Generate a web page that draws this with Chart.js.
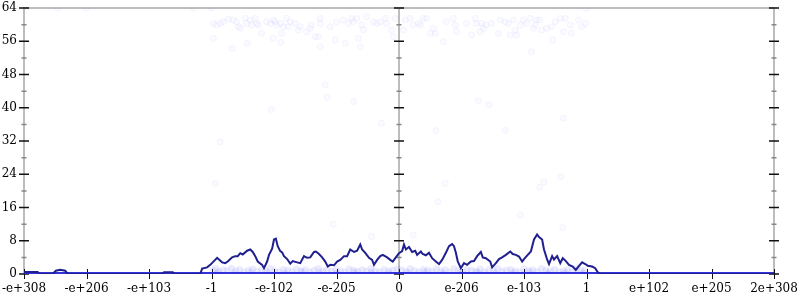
<!DOCTYPE html>
<html>
<head>
<meta charset="utf-8">
<script src="https://cdn.jsdelivr.net/npm/chart.js@4/dist/chart.umd.min.js"></script>
<style>
html,body{margin:0;padding:0;background:#fff;}
#wrap{width:800px;height:300px;}
</style>
</head>
<body>
<div id="wrap"><canvas id="c" width="800" height="300"></canvas></div>
<script>
// ---- tick labels ----
const xTickLabels = ["-e+308","-e+206","-e+103","-1","-e-102","-e-205","0","e-206","e-103","1","e+102","e+205","2e+308"];
const yMin = 0, yMax = 64, yStep = 8;

// ---- main density line (x in label-interval units, -6..6) ----
const lineX = [-6.00,-5.78,-5.76,-5.54,-5.49,-5.42,-5.34,-5.30,-3.79,-3.76,-3.62,-3.58,
 -3.18,-3.15,-3.07,-3.02,-2.91,-2.83,-2.78,-2.74,-2.67,-2.62,-2.58,-2.54,-2.50,-2.43,-2.38,-2.34,-2.30,-2.26,-2.19,-2.16,-2.11,-2.08,-2.03,-2.00,-1.97,-1.94,-1.90,-1.87,-1.84,-1.79,-1.74,-1.70,-1.63,
 -1.58,-1.52,-1.47,-1.42,-1.36,-1.33,-1.28,-1.23,-1.18,-1.14,-1.10,-1.04,-0.99,-0.94,-0.88,-0.83,-0.78,-0.72,-0.67,-0.62,-0.59,-0.54,-0.48,-0.43,-0.40,-0.35,-0.30,-0.26,-0.19,-0.14,-0.10,-0.06,
 0.00,0.05,0.08,0.11,0.16,0.21,0.26,0.29,0.35,0.38,0.43,0.48,0.53,0.59,0.64,0.69,0.75,0.80,0.85,0.88,0.91,0.94,0.99,1.04,1.09,1.15,1.20,1.25,1.31,1.34,1.39,1.46,1.49,1.55,1.60,
 1.65,1.71,1.78,1.82,1.87,1.92,1.97,2.00,2.06,2.11,2.16,2.21,2.24,2.29,2.32,2.37,2.40,2.45,2.48,2.53,2.58,2.62,2.67,2.72,2.78,2.83,2.86,2.93,2.98,3.02,3.09,3.14,3.18,3.22,6.00];
const lineY = [0.5,0.5,0,0,0.8,1.0,0.8,0,0,0.4,0.4,0,
 0,1.3,1.6,2.2,3.9,2.8,2.6,3.0,4.0,4.3,4.3,5.0,4.7,5.6,5.9,5.3,4.3,3.0,2.2,1.4,3.0,4.6,6.1,8.3,8.5,6.7,5.5,5.2,4.3,3.6,2.5,3.1,2.8,
 2.6,4.3,3.9,4.0,5.3,5.4,4.8,4.0,3.0,1.8,2.2,2.1,3.0,3.4,4.3,4.3,5.9,5.3,5.6,7.1,5.9,5.1,3.9,3.4,2.2,3.4,4.3,4.6,4.0,3.4,3.0,3.8,
 5.0,5.5,7.1,5.9,6.5,5.3,5.6,4.6,5.4,4.8,4.5,5.1,3.8,3.0,2.4,3.4,5.1,6.7,7.2,6.7,5.1,3.0,1.4,2.6,2.2,3.0,3.1,4.3,5.3,4.0,3.8,3.0,1.6,2.6,3.6,
 4.0,4.6,5.4,4.8,4.6,4.2,3.0,3.6,4.6,5.4,8.3,9.5,8.9,8.3,5.9,3.5,2.4,4.3,3.5,4.3,2.6,3.8,3.1,2.2,1.8,1.0,1.6,2.8,2.4,2.0,1.8,1.4,0.4,0,0];

// ---- baseline band ----
const bandX = [-6, 6];
const bandY = [0, 0];

// ---- faint scattered samples ----
const ptsX = [-3.00,-2.97,-2.92,-2.86,-2.81,-2.73,-2.65,-2.60,-2.57,-2.54,-2.46,-2.44,-2.38,-2.36,-2.30,-2.28,-2.25,-2.20,-2.12,-2.06,-2.01,-1.98,-1.96,-1.90,-1.88,-1.85,-1.80,-1.77,-1.74,-1.66,-1.61,-1.58,-1.48,-1.42,-1.40,-1.34,-1.29,-1.26,-1.26,-1.10,-1.02,-1.00,-0.89,-0.86,-0.81,-0.76,-0.73,-0.68,-0.65,-0.62,-0.60,-0.57,-0.52,-0.41,-0.36,-0.30,-0.22,-0.20,-0.12,-0.09,-0.06,
 -2.97,-2.67,-2.43,-2.01,-1.89,-1.26,-1.18,-1.15,-0.73,-2.04,-0.28,-2.86,
 0.07,0.10,0.18,0.23,0.31,0.34,0.39,0.44,0.50,0.55,0.58,0.71,0.76,0.87,0.90,0.92,1.08,1.16,1.22,1.24,1.30,1.32,1.35,1.39,1.48,1.59,1.62,1.70,1.75,1.78,1.83,1.86,1.88,1.94,1.99,2.04,2.10,2.15,2.18,2.20,2.25,2.28,2.36,2.44,2.46,2.50,2.58,2.63,2.66,2.74,2.76,2.87,2.92,2.98,3.00,
 2.12,1.27,1.44,2.63,0.59,1.70,0.74,0.62,1.94,2.25,2.32,2.62,0.23,2.59,-2.94,-1.05,-0.44,-5.46,-5.00,-3.30];
const ptsY = [64.0,60.3,59.9,60.3,60.7,61.3,61.1,60.7,59.5,59.1,61.5,60.3,61.1,59.9,61.5,60.3,59.9,57.9,60.7,60.3,61.1,60.7,59.9,60.3,57.9,59.5,61.5,59.5,60.7,60.3,58.7,59.5,58.3,59.1,59.9,57.1,57.1,61.5,60.3,59.5,56.3,60.7,61.1,55.5,60.3,61.5,60.7,61.5,56.7,54.7,59.9,58.7,61.9,60.7,60.3,60.7,61.5,60.3,58.7,57.1,61.5,
 56.7,54.3,55.5,56.7,55.7,54.7,45.5,42.5,41.5,39.6,36.3,31.8,
 58.7,61.1,61.5,59.9,60.3,59.9,61.5,61.5,57.9,59.1,57.9,55.9,60.7,61.5,59.9,58.3,60.3,57.5,61.5,60.3,58.3,60.3,59.1,59.9,60.3,57.9,61.1,60.7,60.3,57.5,61.1,58.7,57.5,59.9,61.1,60.3,61.5,59.1,59.9,61.1,61.1,58.7,59.1,59.5,56.3,60.7,61.5,58.3,61.5,59.9,57.9,61.1,59.5,60.3,63.9,
 53.5,41.7,40.7,37.5,34.5,34.6,21.8,17.4,14.2,20.9,22.2,11.2,9.4,23.4,21.8,12.0,9.0,64.0,64.0,64.0];

const lowX = [-2.98,-2.93,-2.88,-2.81,-2.75,-2.68,-2.61,-2.55,-2.48,-2.41,-2.34,-2.27,-2.20,-2.13,-2.06,-1.99,-1.92,-1.85,-1.78,-1.71,-1.64,-1.57,-1.50,-1.43,-1.36,-1.29,-1.22,-1.15,-1.08,-1.01,-0.94,-0.87,-0.80,-0.73,-0.66,-0.59,-0.52,-0.45,-0.38,-0.31,-0.24,-0.17,-0.10,-0.03,
 0.04,0.11,0.18,0.25,0.32,0.39,0.46,0.53,0.60,0.67,0.74,0.81,0.88,0.95,1.02,1.09,1.16,1.23,1.30,1.37,1.44,1.51,1.58,1.65,1.72,1.79,1.86,1.93,2.00,2.07,2.14,2.21,2.28,2.35,2.42,2.49,2.56,2.63,2.70,2.77,2.84,2.91,2.97,
 -2.90,-2.64,-2.37,-2.10,-1.82,-1.55,-1.27,-0.99,-0.71,-0.44,-0.16,0.14,0.42,0.70,0.98,1.26,1.54,1.82,2.10,2.38,2.66,2.94];
const lowY = [0.9,1.3,0.6,1.0,0.8,1.4,0.7,1.1,0.5,0.9,1.2,0.6,1.0,0.7,1.4,0.8,0.5,1.1,0.9,0.6,1.2,0.8,1.0,0.5,0.9,1.3,0.7,1.0,0.6,1.1,0.8,0.5,1.2,0.9,0.6,1.0,0.7,1.3,0.8,0.5,1.1,0.7,0.9,1.2,
 1.0,0.6,1.3,0.8,0.5,1.1,0.9,0.6,1.2,0.7,1.0,0.5,1.3,0.8,0.6,1.1,0.9,0.7,1.2,0.5,1.0,0.8,1.3,0.6,0.9,1.1,0.7,0.5,1.2,0.8,1.0,0.6,1.3,0.9,0.7,1.1,0.5,0.8,1.0,0.6,1.2,0.9,0.7,
 0.3,0.2,0.4,0.3,0.2,0.4,0.3,0.2,0.4,0.3,0.2,0.3,0.4,0.2,0.3,0.4,0.2,0.3,0.4,0.2,0.3,0.2];

const zip = (xs, ys) => xs.map((v, i) => ({x: v, y: ys[i]}));

// plugin: frame lines and crossing tick marks, positioned through the scales
const framePlugin = {
  id: 'frame',
  beforeDatasetsDraw(chart) {
    const {ctx, chartArea: a, scales: {x, y}} = chart;
    ctx.save();
    ctx.strokeStyle = '#bdbdbd';
    ctx.lineWidth = 2;
    const x0 = Math.round(x.getPixelForValue(0));
    ctx.beginPath();
    ctx.moveTo(a.left, a.bottom); ctx.lineTo(a.left, a.top - 1);
    ctx.moveTo(a.left - 1, a.top); ctx.lineTo(a.right + 1, a.top);
    ctx.moveTo(a.right, a.top - 1); ctx.lineTo(a.right, a.bottom);
    ctx.moveTo(x0, a.top); ctx.lineTo(x0, a.bottom);
    ctx.stroke();
    const axesX = [a.left, x0, a.right];
    ctx.lineWidth = 1.5;
    for (let v = yMin; v <= yMax; v += yStep / 2) {
      const major = (v % yStep) === 0;
      const py = y.getPixelForValue(v);
      const half = major ? 5 : 2.5;
      ctx.strokeStyle = major ? '#111' : '#888';
      ctx.beginPath();
      for (const ax of axesX) { ctx.moveTo(ax - half, py); ctx.lineTo(ax + half, py); }
      ctx.stroke();
    }
    ctx.strokeStyle = '#111';
    ctx.lineWidth = 1;
    ctx.beginPath();
    for (let i = 0; i < xTickLabels.length; i++) {
      const px = Math.round(x.getPixelForValue(i - 6)) + 0.5;
      ctx.moveTo(px, a.bottom - 5); ctx.lineTo(px, a.bottom + 5);
    }
    ctx.stroke();
    ctx.restore();
  }
};

new Chart(document.getElementById('c'), {
  type: 'line',
  data: {
    datasets: [
      {data: zip(lineX, lineY), borderColor: '#1f1f8f', borderWidth: 2, pointRadius: 0, tension: 0, fill: false, order: 1},
      {data: zip(bandX, bandY), borderColor: 'rgba(40,40,215,0.95)', borderWidth: 4, pointRadius: 0, tension: 0, fill: false, order: 2},
      {data: zip(lowX, lowY), showLine: false, pointRadius: 3.5, pointBorderWidth: 0,
       pointBackgroundColor: 'rgba(80,80,245,0.11)', pointBorderColor: 'rgba(80,80,245,0)', order: 3},
      {data: zip(ptsX, ptsY), showLine: false, pointRadius: 3, pointBorderWidth: 1,
       pointBackgroundColor: 'rgba(120,120,255,0.03)', pointBorderColor: 'rgba(120,120,255,0.07)', order: 4}
    ]
  },
  options: {
    responsive: false,
    animation: false,
    events: [],
    layout: {padding: {top: 8, right: 26, left: 0, bottom: 0}},
    plugins: {legend: {display: false}, tooltip: {enabled: false}},
    scales: {
      x: {
        type: 'linear', min: -6, max: 6,
        grid: {display: false, drawTicks: false},
        border: {display: false},
        ticks: {stepSize: 1, autoSkip: false, maxRotation: 0, padding: 8, color: '#000',
                font: {family: 'DejaVu Serif', size: 12},
                callback: (v) => xTickLabels[Math.round(v) + 6]},
        afterFit: (s) => { s.height = 26; s.paddingLeft = 0; s.paddingRight = 0; }
      },
      y: {
        min: yMin, max: yMax,
        grid: {display: false, drawTicks: false},
        border: {display: false},
        ticks: {stepSize: yStep, padding: 7, color: '#000', font: {family: 'DejaVu Serif', size: 12}},
        afterFit: (s) => { s.width = 24; s.paddingTop = 0; s.paddingBottom = 0; }
      }
    }
  },
  plugins: [framePlugin]
});
</script>
</body>
</html>
